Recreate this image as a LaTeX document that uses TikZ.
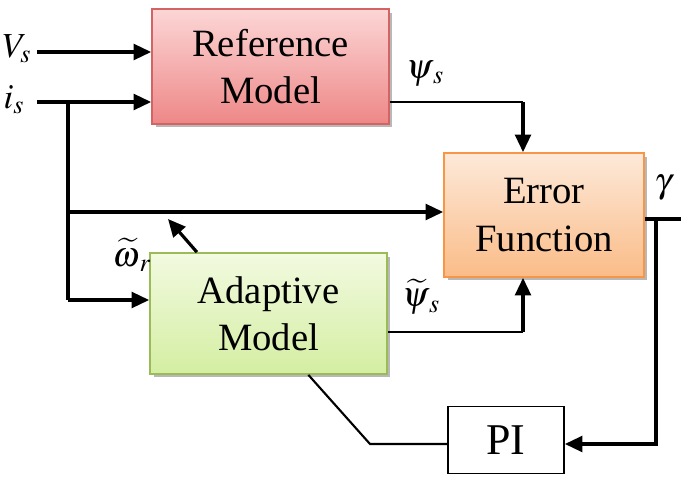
\documentclass[tikz,border=0pt]{standalone}
\usepackage{amsmath}
\usepackage{mathptmx}
\usepackage{fontspec}
\setmainfont{Liberation Serif}
\usepackage{tikz}
\usetikzlibrary{arrows.meta}
\usetikzlibrary{positioning}
\usetikzlibrary{shadows}
\usetikzlibrary{calc}
\definecolor{refedge}{RGB}{210,100,100}
\definecolor{reftop}{RGB}{252,214,214}
\definecolor{refbot}{RGB}{238,135,135}
\definecolor{erredge}{RGB}{247,150,70}
\definecolor{errtop}{RGB}{253,233,217}
\definecolor{errbot}{RGB}{250,188,136}
\definecolor{adaedge}{RGB}{155,187,89}
\definecolor{adatop}{RGB}{242,250,224}
\definecolor{adabot}{RGB}{212,238,162}

\tikzset{
  block/.style={draw, line width=1pt, align=center,
    font=\fontsize{22}{27}\selectfont,
    drop shadow={shadow xshift=0.07cm, shadow yshift=-0.07cm, fill=gray!70, opacity=0.8}},
  sig/.style={line width=1.8pt, -{Triangle[length=10pt,width=9pt]}},
  plain/.style={line width=1.8pt},
  thinsig/.style={line width=1.2pt},
  lbl/.style={font=\fontsize{20}{22}\selectfont}
}

\begin{document}
\begin{tikzpicture}[x=0.02cm, y=-0.02cm]
    \useasboundingbox (0, 0) rectangle (685, 476);

    % blocks
    \node [block, draw=refedge, top color=reftop, bottom color=refbot,
      minimum width=4.74cm, minimum height=2.3cm] (ref) at (270.5, 66.5) {Reference\\Model};
    \node [block, draw=erredge, top color=errtop, bottom color=errbot,
      minimum width=4cm, minimum height=2.48cm] (err) at (544, 215) {Error\\Function};
    \node [block, draw=adaedge, top color=adatop, bottom color=adabot,
      minimum width=4.74cm, minimum height=2.42cm] (ada) at (268.5, 313.5) {Adaptive\\Model};
    \node [draw, line width=1pt, font=\fontsize{25}{28}\selectfont,
      minimum width=2.32cm, minimum height=1.34cm] (pi) at (506, 440) {PI};

    % labels
    \node [lbl, inner sep=1pt] (vs) at (17, 49) {$V_{s}$};
    \node [lbl] (is) at (14, 100) {$i_{s}$};
    \node [lbl] (psis) at (425, 74) {$\psi_{\,s}$};
    \node [lbl] (psiest) at (421, 297) {$\widetilde{\psi}_{\,s}$};
    \node [lbl] (omest) at (132, 255) {$\widetilde{\omega}_{\,r}$};
    \node [lbl] (gam) at (663, 188) {$\gamma$};

    % inputs
    \coordinate (vsin) at (37, 52);
    \coordinate (isin) at (37, 102);
    \coordinate (tap) at (68, 102);
    \coordinate (errin) at (68, 212);
    \coordinate (adain) at (68, 300);
    \draw [sig] (vsin) -- (vsin -| ref.west);
    \draw [sig] (isin) -- (isin -| ref.west);
    \draw [plain] (tap) -- (adain);
    \draw [sig] (errin) -- (errin -| err.west);
    \draw [sig] (adain) -- (adain -| ada.west);

    % model outputs
    \coordinate (refout) at (523, 102);
    \coordinate (adaout) at (523, 332);
    \draw [thinsig] (refout -| ref.east) -- (refout);
    \draw [sig] (refout) -- (refout |- err.north);
    \draw [thinsig] (adaout -| ada.east) -- (adaout);
    \draw [sig] (adaout) -- (adaout |- err.south);

    % error to PI
    \coordinate (gamtap) at (656, 219);
    \coordinate (gamend) at (681, 219);
    \coordinate (pifb) at (656, 444);
    \draw [plain] (gamtap -| err.east) -- (gamend);
    \draw [sig] (gamtap) -- (pifb) -- (pifb -| pi.east);

    % PI back to adaptive model
    \coordinate (bend) at (370, 444);
    \draw [thinsig] (pifb -| pi.west) -- (bend) -- ($(ada.south west)!0.667!(ada.south east)$);

    % speed estimate
    \coordinate (omtip) at (168, 219);
    \draw [sig] ($(ada.north west)!0.2!(ada.north east)$) -- (omtip);
\end{tikzpicture}
\end{document}
